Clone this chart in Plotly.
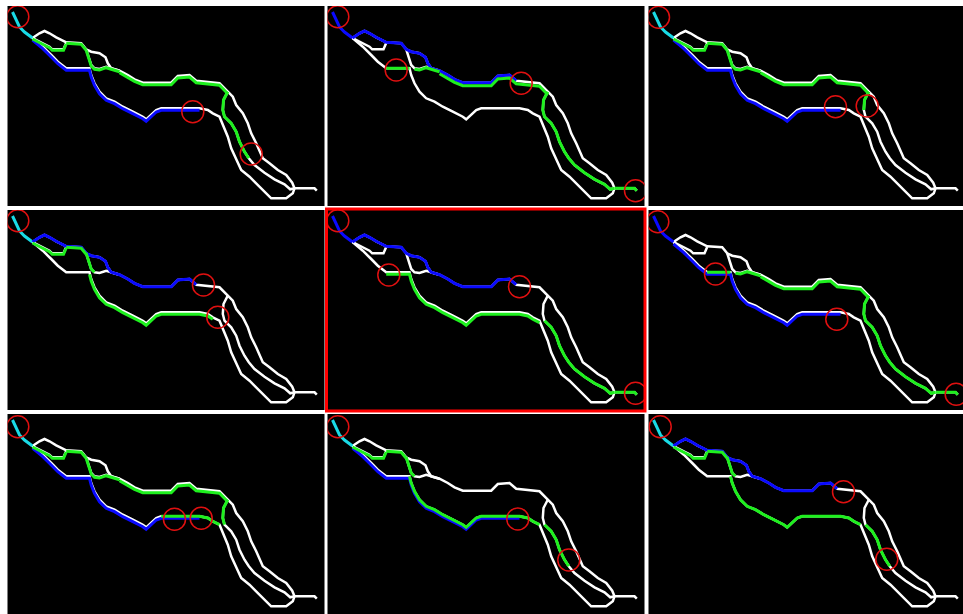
import plotly.graph_objects as go

W, H = 963, 614
PANEL_W, PANEL_H = 317, 200
COL_LEFT = [7.5, 327.5, 648.5]
ROW_TOP = [6.0, 210.0, 414.0]

# Road network (panel pixel coordinates, y downward)
STEM = [(5, 6), (7, 10), (9, 14), (10, 17), (12, 21), (17, 26), (21, 29), (25, 32)]
ROAD_TOP = [(25, 32), (32, 27.3), (37, 25), (42, 27.3), (48.7, 31.3), (58.7, 36.3), (73.7, 37.3),
            (78.7, 43.3), (83.7, 45.7), (92, 47.3), (98, 51.3), (100.3, 57.3), (103.7, 62.3),
            (112, 64.7), (120.3, 69), (127, 73.3), (135.3, 76.7), (163.7, 76.7), (170.3, 70),
            (182, 69), (188.7, 74.7), (212, 77.3), (220.3, 85.7), (225.3, 90.7), (228.7, 99),
            (235.3, 107.3), (240.3, 117.3), (243.7, 127.3), (248.7, 137.3), (255.3, 152.3),
            (262, 157.3), (270.3, 164), (278.7, 169), (284.7, 176.7), (287, 182.3), (307, 182.3),
            (309.3, 184.7)]
ROAD_LOW = [(25, 32), (35.3, 40.7), (43.7, 49), (50.3, 55.7), (58.7, 62.3), (82, 62.3), (83.7, 69),
            (87, 77.3), (92, 85.7), (98.7, 92.3), (107, 95.7), (115.3, 100.7), (125.3, 105.7),
            (135.3, 110.7), (138.7, 113.3), (143.7, 109), (148.7, 104), (153.7, 102.3), (192, 102.3),
            (200.3, 104), (205.3, 107.3), (212, 110.7), (215.3, 119), (220.3, 130.7), (223.7, 142.3),
            (228.7, 154), (233.7, 164), (242, 170.7), (250.3, 179), (258.7, 187.3), (263.7, 192.3),
            (278.7, 192.3), (285.3, 187.3), (287, 182.3)]
ROAD_MID = [(220.3, 85.7), (216, 94), (215.3, 104), (217, 110.7), (223.7, 117.3), (228.7, 125.7),
            (232, 135.7), (237, 145.7), (241.3, 152.3), (247, 159), (257, 166.7), (267, 173.3),
            (277, 178.3), (282.7, 183.3), (287, 182.3)]
ROAD_INNER = [(25, 32), (33, 36), (42, 40.7), (44.7, 43.3), (56, 43.3), (58.7, 37)]
ROAD_CROSS = [(78.7, 43.3), (81.3, 50.7), (83.7, 59), (87, 62.3), (92, 63), (98.7, 60.7),
              (105.3, 63), (112, 64.7)]

ROADS = {"stem": STEM, "top": ROAD_TOP, "low": ROAD_LOW, "mid": ROAD_MID,
         "inner": ROAD_INNER, "cross": ROAD_CROSS}

CYAN, BLUE, GREEN = "#19dbe6", "#0a0aff", "#1ef01e"

# Overlays per panel: (road, first index, last index, colour, dy)
P1 = [("stem", 0, 7, CYAN, 0), ("low", 0, 18, BLUE, 2), ("inner", 0, 5, GREEN, 1), ("top", 5, 7, GREEN, 1),
      ("cross", 0, 7, GREEN, 1), ("top", 13, 22, GREEN, 2), ("mid", 0, 8, GREEN, 0)]
P2 = [("stem", 0, 7, BLUE, 0), ("top", 0, 20, BLUE, 0), ("low", 4, 5, GREEN, 0), ("cross", 3, 7, GREEN, 1),
      ("top", 13, 22, GREEN, 3), ("mid", 0, 14, GREEN, 0), ("top", 34, 36, GREEN, 0)]
P3 = [("stem", 0, 7, CYAN, 0), ("low", 0, 18, BLUE, 2), ("inner", 0, 5, GREEN, 1), ("top", 5, 7, GREEN, 1),
      ("cross", 0, 7, GREEN, 1), ("top", 13, 22, GREEN, 2), ("mid", 0, 2, GREEN, 0)]
P4 = [("stem", 0, 7, CYAN, 0), ("top", 0, 20, BLUE, 0), ("inner", 0, 5, GREEN, 1), ("top", 5, 7, GREEN, 1),
      ("cross", 0, 3, GREEN, 0), ("low", 5, 20, GREEN, 2)]
P5 = [("stem", 0, 7, BLUE, 0), ("top", 0, 20, BLUE, 0), ("low", 4, 21, GREEN, 2),
      ("mid", 3, 14, GREEN, 0), ("top", 34, 36, GREEN, 0)]
P6 = [("stem", 0, 7, BLUE, 0), ("low", 0, 18, BLUE, 2), ("low", 4, 5, GREEN, 0), ("cross", 3, 7, GREEN, 1),
      ("top", 13, 22, GREEN, 2), ("mid", 0, 14, GREEN, 0), ("top", 34, 36, GREEN, 0)]
P7 = [("stem", 0, 7, CYAN, 0), ("low", 0, 18, BLUE, 2), ("inner", 0, 5, GREEN, 1), ("top", 5, 7, GREEN, 1),
      ("cross", 0, 7, GREEN, 1), ("top", 13, 22, GREEN, 2), ("mid", 0, 3, GREEN, 0), ("low", 17, 21, GREEN, 0)]
P8 = [("stem", 0, 7, CYAN, 0), ("low", 0, 18, BLUE, 2), ("inner", 0, 5, GREEN, 1), ("top", 5, 7, GREEN, 1),
      ("cross", 0, 3, GREEN, 0), ("low", 5, 21, GREEN, 0), ("mid", 3, 8, GREEN, 0)]
P9 = [("stem", 0, 7, CYAN, 0), ("top", 0, 20, BLUE, 0), ("inner", 0, 5, GREEN, 1), ("top", 5, 7, GREEN, 1),
      ("cross", 0, 3, GREEN, 0), ("low", 5, 21, GREEN, 0), ("mid", 3, 8, GREEN, 0)]
PANELS = [P1, P2, P3, P4, P5, P6, P7, P8, P9]

C1 = [(10.3, 10.7), (185.3, 105.7), (243.7, 148)]
C2 = [(10.3, 10.7), (68.7, 64), (193.7, 77.3), (308, 184.7)]
C3 = [(10, 11.3), (187, 100.7), (218.7, 100)]
C4 = [(10.3, 10.7), (196, 75), (210.3, 107.3)]
C5 = [(10.3, 10.7), (61.3, 65), (192, 76.7), (308, 183.3)]
C6 = [(9.3, 11.7), (67, 64), (188.3, 109.3), (307.7, 184.3)]
C7 = [(10.3, 12.7), (167, 105.3), (193.7, 104.3)]
C8 = [(10.3, 12.7), (190.3, 105), (241.3, 146)]
C9 = [(11.7, 12.7), (195, 77.7), (238.3, 145.3)]
CIRCLES = [C1, C2, C3, C4, C5, C6, C7, C8, C9]
HIGHLIGHT_PANEL = 4
CIRCLE_R = 11


def clamp(v):
    return max(0.0, min(1.0, v))


fig = go.Figure()
layout = dict(width=W, height=H, margin=dict(l=0, r=0, t=0, b=0),
              paper_bgcolor="white", plot_bgcolor="black", showlegend=False)
shapes = []
for k in range(9):
    r, c = divmod(k, 3)
    n = "" if k == 0 else str(k + 1)
    x0 = COL_LEFT[c]
    y0 = ROW_TOP[r]
    w = min(PANEL_W, W - x0)
    h = min(PANEL_H, H - y0)
    layout["xaxis" + n] = dict(domain=[clamp(x0 / W), clamp((x0 + w) / W)], range=[0, w], visible=False,
                               fixedrange=True, anchor="y" + n)
    layout["yaxis" + n] = dict(domain=[clamp(1 - (y0 + h) / H), clamp(1 - y0 / H)], range=[h, 0],
                               visible=False, fixedrange=True, anchor="x" + n)
    xr, yr = "x" + n, "y" + n
    for name in ["top", "low", "mid", "inner", "cross"]:
        pts = ROADS[name]
        fig.add_trace(go.Scatter(x=[p[0] for p in pts], y=[p[1] for p in pts], mode="lines",
                                 line=dict(color="white", width=2.5), xaxis=xr, yaxis=yr,
                                 hoverinfo="skip"))
    for road, i0, i1, col, dy in PANELS[k]:
        pts = ROADS[road][i0:i1 + 1]
        fig.add_trace(go.Scatter(x=[p[0] for p in pts], y=[p[1] + dy for p in pts], mode="lines",
                                 line=dict(color=col, width=3), xaxis=xr, yaxis=yr,
                                 hoverinfo="skip"))
    for cx, cy in CIRCLES[k]:
        shapes.append(dict(type="circle", xref=xr, yref=yr, x0=cx - CIRCLE_R, x1=cx + CIRCLE_R,
                           y0=cy - CIRCLE_R, y1=cy + CIRCLE_R,
                           line=dict(color="#e01010", width=1.5)))
    if k == HIGHLIGHT_PANEL:
        shapes.append(dict(type="rect", xref="paper", yref="paper",
                           x0=clamp((x0 - 1) / W), x1=clamp((x0 + w + 0.5) / W),
                           y0=clamp(1 - (y0 + h + 1) / H), y1=clamp(1 - (y0 - 1) / H),
                           line=dict(color="#ff0000", width=3)))
layout["shapes"] = shapes
fig.update_layout(**layout)
fig.write_html("out.html", config={"displayModeBar": False},
               post_script="document.body.style.margin='0';document.body.style.overflow='hidden';")
